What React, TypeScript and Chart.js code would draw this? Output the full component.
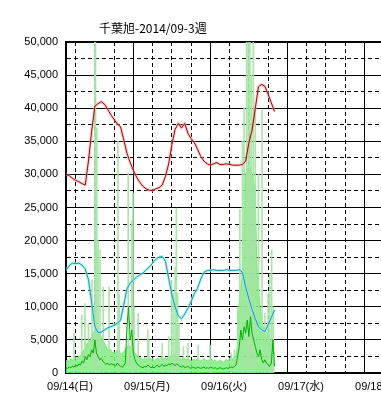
import React, { useEffect, useRef } from "react";
import { Chart, registerables } from "chart.js";

Chart.register(...registerables);

const TITLE = "千葉旭-2014/09-3週";
const dayLabels = ["09/14(日)", "09/15(月)", "09/16(火)", "09/17(水)", "09/18(木)", "09/19(金)", "09/20(土)", "09/21(日)"];
const Y_MAX = 50000;
const HOURS_SHOWN = 168;

// hourly values from 09/14 00:00
const redValues = [
  30000, 29800, 29400, 29100, 28900, 28600, 28400, 32000, 36500, 40300,
  40700, 41000, 40600, 39800, 39000, 38300, 37600, 37200, 35200, 33200,
  31800, 30600, 29600, 28800, 28200, 27800, 27600, 27600, 27800, 28000,
  28400, 29700, 31600, 34500, 36800, 37700, 37000, 37700, 36200, 35400,
  34800, 33800, 32700, 32000, 31600, 31400, 31600, 31800, 31500, 31500,
  31600, 31500, 31400, 31400, 31400, 31500, 32000, 34800, 36700, 40000,
  43250, 43600, 43300, 42100, 40800, 39500,
];

const cyanValues = [
  15500, 16200, 16600, 16500, 16600, 16300, 15700, 14100, 10600, 7000,
  6100, 6200, 6500, 6800, 7000, 7200, 7500, 8000, 10300, 12700,
  13600, 14000, 14500, 14800, 15100, 15600, 16000, 16600, 17200, 17500,
  17600, 16900, 14300, 11800, 10000, 8600, 8200, 8900, 9800, 10800,
  12000, 12800, 14200, 15200, 15500, 15500, 15600, 15500, 15500, 15500,
  15600, 15500, 15500, 15500, 15600, 15200, 13000, 11200, 9600, 8200,
  7000, 6500, 6250, 7300, 8400, 9500,
];

// half-hourly body of the light green series from 09/14 00:00
const lightGreenValues = [
  1800, 2000, 1600, 2200, 1800, 2500, 2400, 2000, 2600, 2500,
  3000, 3500, 3500, 4500, 4500, 5000, 5500, 6000, 6500, 6000,
  6500, 6000, 5500, 5000, 4500, 4000, 3500, 3500, 3500, 3000,
  3200, 3000, 3500, 3200, 3000, 2800, 3200, 3500, 4000, 4200,
  4000, 3800, 3500, 3000, 2800, 2500, 2300, 2200, 2000, 2300,
  2000, 2500, 2400, 2000, 2200, 1800, 2000, 2300, 2000, 2200,
  2500, 2000, 2300, 2000, 2600, 2400, 2800, 2500, 3000, 2800,
  2500, 2200, 2000, 2400, 2200, 2000, 2300, 2000, 1800, 2000,
  2000, 1800, 2200, 2000, 1800, 2000, 2200, 1800, 2000, 1800,
  2200, 2000, 1800, 2000, 1600, 1800, 2000, 1800, 1600, 1800,
  2000, 1800, 2200, 2400, 2000, 2500, 2500, 4500, 11000, 13000,
  15000, 22000, 30000, 31000, 30000, 31000, 30000, 29000, 27000, 16000,
  13000, 10000, 8000, 7000, 6500, 6000, 6000, 5000, 4500, 3500,
  3000,
];

// thin peaks of the light green series (hour, value)
const spikeHours = [
  2.5, 4.9, 5.9, 7.0, 8.1, 9.0, 9.2, 9.6, 10.0, 10.6, 11.6, 13.4, 16.2, 16.6,
  19.4, 20.5, 20.9, 21.2, 22.5, 25.5, 25.8, 30.0, 32.0, 32.9, 33.4, 34.0, 34.4,
  34.8, 35.2, 36.6, 38.0, 41.2, 44.9, 51.5, 52.5, 53.5, 54.2, 55.0, 55.5, 56.3,
  56.8, 57.3, 57.8, 58.4, 59.0, 60.0, 61.1, 62.0, 63.0, 63.5, 64.1, 64.6,
];
const spikeValues = [
  6000, 8750, 10500, 7500, 14000, 60000, 60000, 37000, 20000, 18600, 13000, 13000, 35000, 12000,
  30200, 23000, 27200, 10000, 9000, 6500, 5000, 4500, 5500, 14000, 12000, 16000, 24900,
  12000, 7500, 4000, 4500, 4200, 4200, 3000, 3500, 10000, 24700, 35000, 40000, 60000,
  50000, 60000, 45000, 60000, 40000, 30000, 39700, 9000, 12000, 15000, 18600, 10000,
];

const darkGreenValues = [
  800, 700, 900, 800, 1000, 900, 1200, 1000, 1400, 1200,
  1800, 1500, 2500, 2000, 2800, 2500, 3500, 3000, 5000, 3000,
  2500, 2000, 2200, 1800, 1500, 1300, 1500, 1200, 1400, 1300,
  1200, 1100, 1500, 1200, 1000, 900, 1100, 1500, 7000, 10000,
  5000, 6500, 3000, 2000, 1500, 1200, 1000, 900, 800, 1000,
  900, 1200, 1000, 800, 900, 800, 1000, 1200, 900, 1100,
  1300, 1000, 1200, 1100, 1400, 1200, 1500, 1300, 1100, 1400,
  1200, 1000, 900, 1100, 800, 900, 1000, 800, 700, 900,
  800, 700, 900, 800, 700, 800, 900, 700, 800, 700,
  900, 800, 700, 800, 600, 700, 800, 700, 600, 700,
  800, 700, 800, 900, 800, 1000, 1200, 2500, 4000, 6500,
  5000, 7000, 6000, 8000, 5500, 8500, 6000, 5000, 4000, 3000,
  2500, 3500, 2000, 1500, 2000, 1500, 1200, 1000, 1500, 5000,
  1000,
];

const tickFont = { family: "'Liberation Sans', 'Noto Sans CJK JP', sans-serif", size: 11 };

export default function App() {
  const canvasRef = useRef<HTMLCanvasElement | null>(null);

  useEffect(() => {
    const hourly = (arr: number[]) => arr.map((v, i) => ({ x: i, y: v }));
    const halfHourly = (arr: number[]) => arr.map((v, i) => ({ x: i / 2, y: v }));
    const canvas = canvasRef.current;
    if (!canvas) return;
    const chart = new Chart(canvas, {
      type: "line",
      data: {
        datasets: [
          { data: hourly(redValues), borderColor: "#a80000", borderWidth: 1 },
          { data: hourly(redValues), borderColor: "rgba(240,170,170,0.55)", borderWidth: 3 },
          { data: hourly(cyanValues), borderColor: "#129ca4", borderWidth: 1 },
          { data: hourly(cyanValues), borderColor: "rgba(150,232,238,0.65)", borderWidth: 3 },
          { data: halfHourly(darkGreenValues), borderColor: "#00b000", borderWidth: 1 },
          {
            type: "bar",
            data: spikeHours.map((h, i) => ({ x: h, y: spikeValues[i] })),
            backgroundColor: "rgba(165,228,165,0.95)",
            barThickness: 1,
          } as any,
          {
            data: halfHourly(lightGreenValues),
            borderColor: "rgba(110,232,110,0.9)",
            backgroundColor: "rgba(125,238,125,0.85)",
            fill: "origin",
            borderWidth: 1,
          },
        ],
      },
      options: {
        responsive: false,
        animation: false,
        events: [],
        layout: { padding: { top: 42, right: 35, left: 0, bottom: 0 } },
        elements: { point: { radius: 0 }, line: { tension: 0 } },
        plugins: { legend: { display: false }, tooltip: { enabled: false }, title: { display: false } },
        scales: {
          x: {
            type: "linear",
            min: 0,
            max: HOURS_SHOWN,
            offset: false,
            ticks: {
              stepSize: 6,
              autoSkip: false,
              maxRotation: 0,
              minRotation: 0,
              padding: 7,
              labelOffset: 4,
              color: "#000",
              font: tickFont,
              callback: (v: any) => (Number(v) % 24 === 0 ? dayLabels[Number(v) / 24] : ""),
            },
            grid: { color: "#000", lineWidth: 1, drawTicks: false },
            border: {
              color: "#000",
              width: 2,
              dash: (ctx: any) => (ctx.tick && ctx.tick.value % 24 !== 0 ? [4, 3] : []),
            },
            afterFit: (s: any) => {
              s.height = 27;
            },
          },
          y: {
            type: "linear",
            min: 0,
            max: Y_MAX,
            ticks: {
              stepSize: 2500,
              autoSkip: false,
              padding: 8,
              color: "#000",
              font: tickFont,
              callback: (v: any) => (Number(v) % 5000 === 0 ? Number(v).toLocaleString("en-US") : ""),
            },
            grid: {
              color: "#000",
              lineWidth: (ctx: any) => (ctx.tick && ctx.tick.value === Y_MAX ? 2 : 1),
              drawTicks: false,
            },
            border: {
              color: "#000",
              width: 2,
              dash: (ctx: any) => (ctx.tick && ctx.tick.value % 5000 !== 0 ? [4, 3] : []),
            },
            afterFit: (s: any) => {
              s.width = 66;
            },
          },
        },
      } as any,
    });
    return () => chart.destroy();
  }, []);

  return (
    <div
      style={{
        position: "fixed",
        left: 0,
        top: 0,
        width: 381,
        height: 400,
        overflow: "hidden",
        background: "#fff",
      }}
    >
      <canvas ref={canvasRef} width={640} height={400} style={{ position: "absolute", left: 0, top: 0 }} />
      <div
        style={{
          position: "absolute",
          left: 99,
          top: 21,
          fontSize: 12,
          lineHeight: "14px",
          fontFamily: "'Noto Sans CJK JP', sans-serif",
          color: "#000",
          whiteSpace: "nowrap",
        }}
      >
        {TITLE}
      </div>
    </div>
  );
}
